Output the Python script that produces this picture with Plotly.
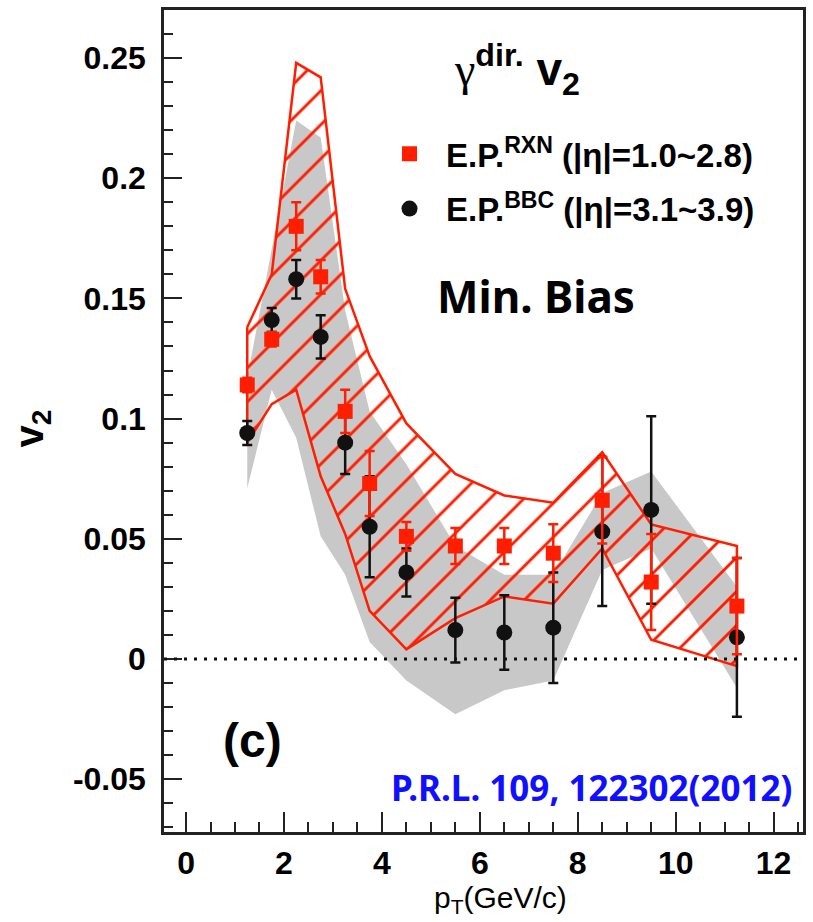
import plotly.graph_objects as go

# Transverse-momentum bin centres (GeV/c)
PT = [1.25, 1.75, 2.25, 2.75, 3.25, 3.75, 4.5, 5.5, 6.5, 7.5, 8.5, 9.5, 11.25]

# Direct-photon v2, reaction-plane detector RXN (|eta| = 1.0~2.8)
RXN_V2 = [0.114, 0.133, 0.180, 0.159, 0.103, 0.073, 0.051, 0.047, 0.047, 0.044, 0.066, 0.032, 0.022]
RXN_STAT = [0.003, 0.003, 0.010, 0.007, 0.009, 0.0135, 0.006, 0.0075, 0.0075, 0.012, 0.018, 0.020, 0.020]
RXN_SYS = [0.024, 0.027, 0.068, 0.083, 0.051, 0.053, 0.047, 0.030, 0.021, 0.021, 0.020, 0.024, 0.025]

# Direct-photon v2, beam-beam counter BBC (|eta| = 3.1~3.9)
BBC_V2 = [0.094, 0.141, 0.158, 0.134, 0.090, 0.055, 0.036, 0.012, 0.011, 0.013, 0.053, 0.062, 0.009]
BBC_STAT = [0.005, 0.005, 0.008, 0.009, 0.013, 0.021, 0.010, 0.0135, 0.0155, 0.023, 0.031, 0.039, 0.033]
BBC_SYS = [0.023, 0.029, 0.066, 0.083, 0.055, 0.048, 0.045, 0.035, 0.024, 0.022, 0.016, 0.016, 0.021]

# Axis ticks
X_TICKS = [0, 2, 4, 6, 8, 10, 12]
X_TICK_TEXT = ["0", "2", "4", "6", "8", "10", "12"]
Y_TICKS = [-0.05, 0, 0.05, 0.1, 0.15, 0.2, 0.25]
Y_TICK_TEXT = ["-0.05", "0", "0.05", "0.1", "0.15", "0.2", "0.25"]
X_RANGE = [-0.45, 12.6]
Y_RANGE = [-0.072, 0.270]

RED = "#ff1e00"
BLACK = "#111111"
GRAY = "#c8c8c8"

# Plot-area pixel box, used to place the text labels
L, R, T, B = 164, 806, 8, 832


def px(x):
    return (x - L) / (R - L)


def py(y):
    return (B - y) / (B - T)


def band(values, sys):
    upper = [v + s for v, s in zip(values, sys)]
    lower = [v - s for v, s in zip(values, sys)]
    xs = PT + PT[::-1] + [PT[0]]
    ys = upper + lower[::-1] + [upper[0]]
    return xs, ys


fig = go.Figure()

# BBC systematic band (solid gray)
bx, by = band(BBC_V2, BBC_SYS)
fig.add_trace(go.Scatter(
    x=bx, y=by, mode="lines", fill="toself", fillcolor=GRAY,
    line=dict(width=0, color=GRAY), hoverinfo="skip", showlegend=False,
))

# RXN systematic band (red hatched outline)
rx, ry = band(RXN_V2, RXN_SYS)
fig.add_trace(go.Scatter(
    x=rx, y=ry, mode="lines", fill="toself", fillcolor="rgba(0,0,0,0)",
    fillpattern=dict(shape="/", fgcolor=RED, bgcolor="rgba(0,0,0,0)",
                     fgopacity=1, size=24, solidity=0.12),
    line=dict(width=2.5, color=RED), hoverinfo="skip", showlegend=False,
))

# BBC points
fig.add_trace(go.Scatter(
    x=PT, y=BBC_V2, mode="markers",
    marker=dict(symbol="circle", size=16, color=BLACK),
    error_y=dict(type="data", array=BBC_STAT, color=BLACK, thickness=2.5, width=5),
    name="<b>E.P.<sup>BBC</sup> (|η|=3.1~3.9)</b>", legendgroup="b", legendrank=2,
))

# RXN points
fig.add_trace(go.Scatter(
    x=PT, y=RXN_V2, mode="markers",
    marker=dict(symbol="square", size=15, color=RED),
    error_y=dict(type="data", array=RXN_STAT, color=RED, thickness=2.5, width=5),
    name="<b>E.P.<sup>RXN</sup> (|η|=1.0~2.8)</b>", legendgroup="a", legendrank=1,
))

fig.add_shape(type="line", xref="paper", yref="y", x0=0, x1=1, y0=0, y1=0,
              line=dict(color=BLACK, width=3, dash="3px,7px"), layer="above")

axis_common = dict(
    showline=True, mirror=True, linecolor="#222222", linewidth=2.5,
    ticks="inside", tickcolor="#222222", tickwidth=2,
    showgrid=False, zeroline=False,
    tickfont=dict(family="Liberation Sans", size=32, color="black", weight="bold"),
)

fig.update_xaxes(
    range=X_RANGE, tickvals=X_TICKS, ticktext=X_TICK_TEXT, ticklen=20,
    minor=dict(ticks="inside", dtick=0.5, ticklen=10, tickcolor="#222222", tickwidth=2),
    ticklabelstandoff=1,
    **axis_common,
)
fig.update_yaxes(
    range=Y_RANGE, tickvals=Y_TICKS, ticktext=Y_TICK_TEXT, ticklen=18,
    minor=dict(ticks="inside", dtick=0.01, ticklen=9, tickcolor="#222222", tickwidth=2),
    ticklabelstandoff=9,
    **axis_common,
)

annotations = [
    # panel title
    dict(x=px(519), y=py(68), text="<span style='font-family:Liberation Serif;font-weight:normal'>γ</span>"
         "<sup>dir.</sup> v<sub>2</sub>",
         font=dict(family="Liberation Sans", size=46, color="black", weight="bold")),
    dict(x=px(538), y=py(295), text="Min. Bias",
         font=dict(family="Noto Sans", size=44, color="black", weight="bold")),
    dict(x=px(253), y=py(740), text="(c)",
         font=dict(family="Liberation Sans", size=48, color="black", weight="bold")),
    dict(x=px(594), y=py(787), text="P.R.L. 109, 122302(2012)",
         font=dict(family="Noto Sans", size=35, color="#1010ff", weight="bold")),
    # axis titles
    dict(x=px(502), y=py(900), text="p<sub>T</sub>(GeV/c)",
         font=dict(family="Liberation Sans", size=30, color="black")),
    dict(x=px(31), y=py(428), text="v<sub>2</sub>", textangle=-90,
         font=dict(family="Liberation Sans", size=40, color="black", weight="bold")),
]
for a in annotations:
    a.update(xref="paper", yref="paper", showarrow=False, xanchor="center", yanchor="middle")

fig.update_layout(
    width=813, height=922,
    margin=dict(l=L, r=813 - R, t=T, b=922 - B),
    plot_bgcolor="white", paper_bgcolor="white",
    annotations=annotations,
    showlegend=True,
    legend=dict(x=px(374), y=py(124), xanchor="left", yanchor="top",
                bgcolor="rgba(0,0,0,0)", traceorder="grouped", tracegroupgap=9,
                itemwidth=63,
                font=dict(family="Liberation Sans", size=33, color="black")),
)

fig.write_html("out.html")
